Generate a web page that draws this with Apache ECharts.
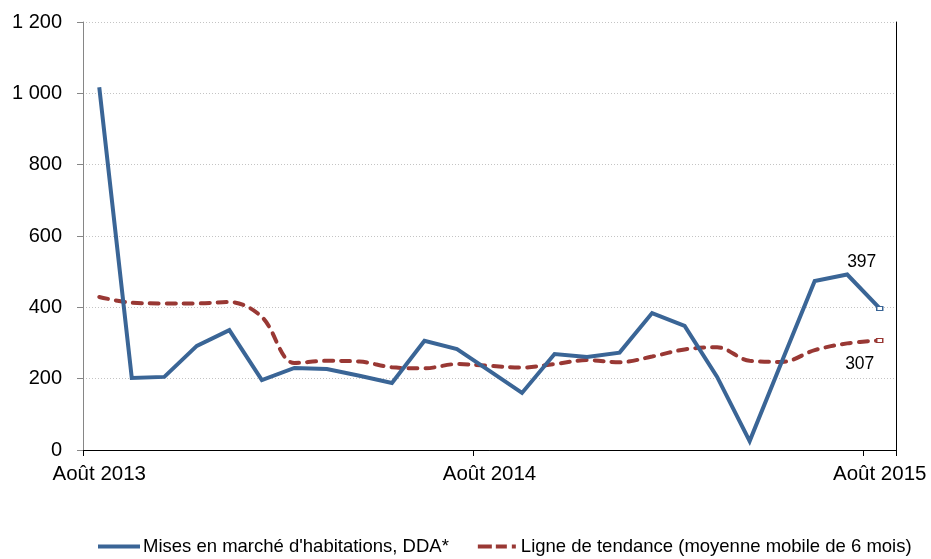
<!DOCTYPE html>
<html>
<head>
<meta charset="utf-8">
<script src="https://cdn.jsdelivr.net/npm/echarts@6/dist/echarts.min.js"></script>
<style>
html,body{margin:0;padding:0;background:#fff;}
#chart{width:931px;height:559px;}
</style>
</head>
<body>
<div id="chart"></div>
<script>
var categories = ['Août 2013','Sept 2013','Oct 2013','Nov 2013','Déc 2013','Janv 2014','Févr 2014','Mars 2014','Avr 2014','Mai 2014','Juin 2014','Juil 2014',
  'Août 2014','Sept 2014','Oct 2014','Nov 2014','Déc 2014','Janv 2015','Févr 2015','Mars 2015','Avr 2015','Mai 2015','Juin 2015','Juil 2015','Août 2015'];
var misesEnMarche = [1017, 202, 205, 292, 336, 196, 230, 227, 208, 188, 306, 283, 222, 160, 269, 261, 273, 384, 348, 205, 25, 250, 474, 492, 397];
var tendance = [429, 413, 411, 411, 415, 373, 244, 250, 248, 232, 229, 241, 236, 231, 241, 252, 246, 262, 282, 288, 250, 247, 280, 299, 307];
var yTicks = [0, 200, 400, 600, 800, 1000, 1200];
var seriesNames = ["Mises en marché d'habitations, DDA*", 'Ligne de tendance (moyenne mobile de 6 mois)'];

var BLUE = '#3A6596', RED = '#993834';
var FONT = '"Liberation Sans", Arial, sans-serif';

function withEndMarker(arr, color, labelOffset) {
  return arr.map(function (v, i) {
    if (i === arr.length - 1) {
      return {
        value: v,
        symbol: 'rect',
        symbolSize: [6, 4],
        itemStyle: { color: '#fff', borderColor: color, borderWidth: 1.2 },
        label: {
          show: true, position: 'inside', offset: labelOffset,
          formatter: String(v), color: '#000', fontSize: 17.5, fontFamily: FONT
        }
      };
    }
    return { value: v, symbol: 'none' };
  });
}

function fmt(v) {
  return String(v).replace(/\B(?=(\d{3})+(?!\d))/g, ' ');
}

var chart = echarts.init(document.getElementById('chart'), null, { renderer: 'canvas' });
chart.setOption({
  animation: false,
  backgroundColor: '#fff',
  textStyle: { fontFamily: FONT },
  grid: { left: 83, right: 35, top: 22, bottom: 109, containLabel: false },
  legend: {
    left: 98, top: 537, padding: 0,
    itemGap: 29, itemWidth: 42, itemHeight: 4,
    textStyle: { fontSize: 18.5, color: '#000', fontFamily: FONT, padding: [0, 0, 0, -2] },
    data: [
      { name: seriesNames[0], icon: 'rect' },
      { name: seriesNames[1], icon: 'path://M0,0H14V4H0Z M18,0H29V4H18Z M34,0H38V4H34Z' }
    ]
  },
  xAxis: [{
    type: 'category', data: categories, boundaryGap: true,
    axisLine: { show: true, lineStyle: { color: '#000', width: 1 } },
    axisTick: { show: true, interval: 11, length: 6, lineStyle: { color: '#000' } },
    axisLabel: { interval: 11, margin: 14, fontSize: 20.5, color: '#000', fontFamily: FONT },
    splitLine: { show: false }
  }, {
    type: 'category', data: categories, position: 'top', boundaryGap: true,
    axisLine: { show: true, lineStyle: { color: '#000', width: 1 } },
    axisTick: { show: false }, axisLabel: { show: false }, splitLine: { show: false }
  }],
  yAxis: [{
    type: 'value', min: yTicks[0], max: yTicks[yTicks.length - 1], interval: yTicks[1] - yTicks[0],
    axisLine: { show: true, lineStyle: { color: '#868686', width: 1 } },
    axisTick: { show: true, length: 6, lineStyle: { color: '#868686' } },
    axisLabel: { margin: 21, fontSize: 20, color: '#000', fontFamily: FONT, formatter: fmt, padding: [4, 0, 0, 0] },
    splitLine: { show: true, lineStyle: { color: '#c4c4c4', type: [1, 2], width: 1 } }
  }, {
    type: 'value', position: 'right', min: yTicks[0], max: yTicks[yTicks.length - 1],
    axisLine: { show: true, lineStyle: { color: '#000', width: 1 } },
    axisTick: { show: false }, axisLabel: { show: false }, splitLine: { show: false }
  }],
  series: [{
    name: seriesNames[0], type: 'line',
    data: withEndMarker(misesEnMarche, BLUE, [-18, -46]),
    symbol: 'rect', symbolSize: [6, 4], showSymbol: true, showAllSymbol: true,
    itemStyle: { color: BLUE },
    lineStyle: { color: BLUE, width: 4, join: 'miter' },
    z: 3
  }, {
    name: seriesNames[1], type: 'line', smooth: 0.35,
    data: withEndMarker(tendance, RED, [-20, 24]),
    symbol: 'rect', symbolSize: [6, 4], showSymbol: true, showAllSymbol: true,
    itemStyle: { color: RED },
    lineStyle: { color: RED, width: 4, type: [9, 8], cap: 'round' },
    z: 2
  }]
});
</script>
</body>
</html>
